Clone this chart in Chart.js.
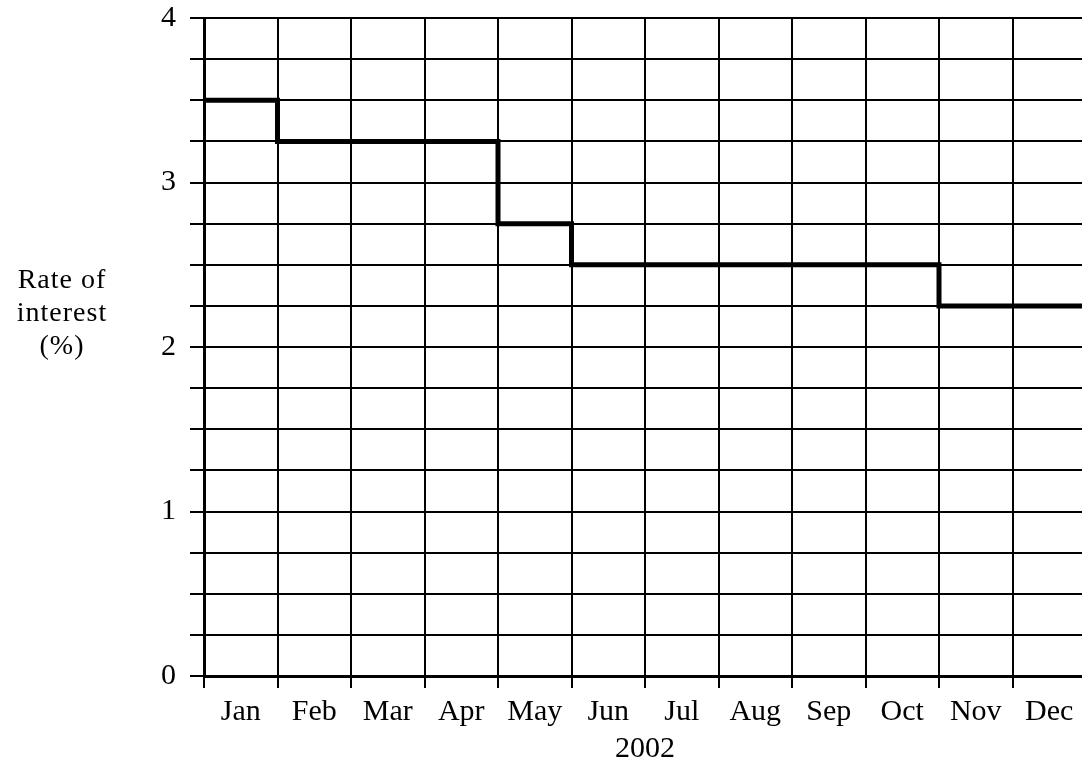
<!DOCTYPE html>
<html>
<head>
<meta charset="utf-8">
<script src="https://cdn.jsdelivr.net/npm/chart.js@4"></script>
<style>
  html, body { margin:0; padding:0; background:#fff; overflow:hidden; width:1082px; height:769px; }
  #wrap { position:absolute; left:0; top:0; width:1090px; height:769px; }
  #ytitle { position:absolute; left:0; top:262px; width:124px; text-align:center;
            font-family:"Liberation Serif", serif; font-size:28px; line-height:33px; letter-spacing:1px; color:#000; }
</style>
</head>
<body>
<div id="wrap"><canvas id="rateChart" width="1090" height="769"></canvas></div>
<div id="ytitle">Rate of<br>interest<br>(%)</div>
<script>
// monthly interest rate, 2002
const MONTHS = ['Jan','Feb','Mar','Apr','May','Jun','Jul','Aug','Sep','Oct','Nov','Dec'];
const RATES  = [3.5, 3.25, 3.25, 3.25, 2.75, 2.5, 2.5, 2.5, 2.5, 2.5, 2.25, 2.25];
const YEAR   = '2002';

const FONT = { family: '"Liberation Serif", serif', size: 30 };

// each month's rate starts at the month boundary; close the last step at the year end
const stepPoints = RATES.map((r, i) => ({ x: i, y: r }));
stepPoints.push({ x: MONTHS.length, y: RATES[RATES.length - 1] });

new Chart(document.getElementById('rateChart'), {
  type: 'line',
  data: {
    datasets: [{
      data: stepPoints,
      stepped: 'before',
      borderColor: '#000',
      borderWidth: 5,
      pointRadius: 0,
      fill: false
    }]
  },
  options: {
    responsive: false,
    devicePixelRatio: 1,
    animation: false,
    layout: { padding: { top: 18, right: 4, left: 0, bottom: 0 } },
    plugins: { legend: { display: false }, tooltip: { enabled: false } },
    scales: {
      x: {
        type: 'linear', position: 'bottom', min: 0, max: 12,
        ticks: { display: false, stepSize: 1 },
        grid: { color: '#000', lineWidth: 2, tickLength: 12 },
        border: { color: '#000', width: 3 },
        afterFit: s => { s.height = 12; }
      },
      xl: {
        type: 'linear', position: 'bottom', min: 0, max: 12,
        afterBuildTicks: s => { s.ticks = MONTHS.map((m, i) => ({ value: i + 0.5 })); },
        ticks: {
          autoSkip: false, maxRotation: 0, padding: 6, color: '#000', font: FONT,
          callback: (v, i) => MONTHS[i]
        },
        grid: { display: false, drawTicks: false },
        border: { display: false },
        title: { display: true, text: YEAR, color: '#000', font: FONT, padding: { top: 0, bottom: 2 } },
        afterFit: s => { s.height = 81; }
      },
      y: {
        min: 0, max: 4,
        ticks: {
          stepSize: 0.25, autoSkip: false, padding: 14, color: '#000', font: FONT,
          callback: v => Number.isInteger(v) ? v : ''
        },
        grid: { color: '#000', lineWidth: 2, tickLength: 14 },
        border: { color: '#000', width: 3 },
        afterFit: s => { s.width = 204; s.paddingTop = 0; s.paddingBottom = 0; }
      }
    }
  }
});
</script>
</body>
</html>
